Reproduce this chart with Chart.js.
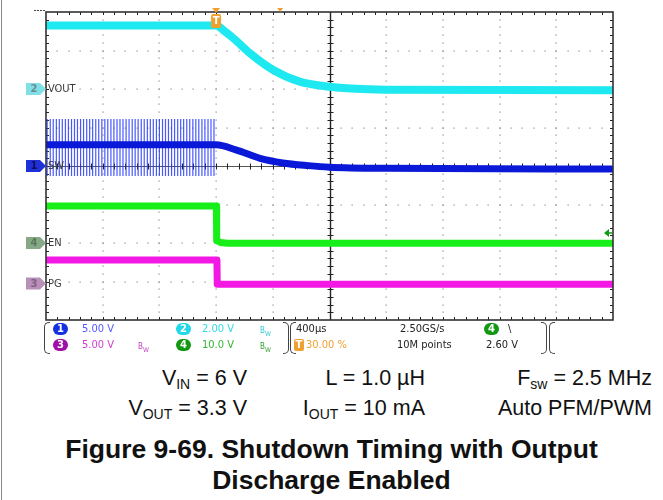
<!DOCTYPE html>
<html>
<head>
<meta charset="utf-8">
<script src="https://cdn.jsdelivr.net/npm/chart.js@4.4.1/dist/chart.umd.min.js"></script>
<style>
  body { margin: 0; background: #fff; width: 663px; height: 500px; position: relative; overflow: hidden; font-family: 'Liberation Sans', Arial, sans-serif; }
  #scope { position: absolute; left: 0; top: 0; width: 663px; height: 330px; }
  .pageline { position: absolute; left: 1px; top: 0; width: 1px; height: 500px; background: #8a8a8a; }
  .ft { position: absolute; font-family: 'DejaVu Sans Condensed', 'Liberation Sans Narrow', sans-serif; font-size: 11px; line-height: 14px; white-space: nowrap; }
  .badge { position: absolute; width: 15px; height: 12px; border-radius: 7px; color: #fff; font: bold 10px 'DejaVu Sans', sans-serif; text-align: center; line-height: 12px; }
  .bw { font-size: 8px; }
  .brl, .brr { position: absolute; top: 322px; height: 30px; width: 5px; border: 1.3px solid #444; }
  .brl { border-right: none; border-radius: 5px 0 0 5px; }
  .brr { border-left: none; border-radius: 0 5px 5px 0; }
  .cond { position: absolute; font-size: 21.5px; line-height: 24px; color: #111; white-space: nowrap; text-align: right; }
  .cond sub { font-size: 14px; vertical-align: -4px; line-height: 0; }
  .cap { position: absolute; left: 0; width: 663px; top: 434px; text-align: center; font-weight: bold; font-size: 26.5px; line-height: 31px; color: #111; }
</style>
</head>
<body>
<div class="pageline"></div>
<canvas id="scope" width="663" height="330"></canvas>

<!-- scope status bar -->
<div class="brl" style="left:44px"></div>
<div class="badge" style="left:53px;top:323px;background:#1530e0">1</div>
<div class="ft" style="left:82px;top:322px;color:#5058ff">5.00 V</div>
<div class="badge" style="left:53px;top:339px;background:#a010a8">3</div>
<div class="ft" style="left:82px;top:338px;color:#d040d0">5.00 V</div>
<div class="ft bw" style="left:138px;top:340px;color:#c040c0">B<sub>W</sub></div>
<div class="badge" style="left:176px;top:323px;background:#20d8e8">2</div>
<div class="ft" style="left:202px;top:322px;color:#30d8e8">2.00 V</div>
<div class="ft bw" style="left:260px;top:324px;color:#30c8d8">B<sub>W</sub></div>
<div class="badge" style="left:176px;top:339px;background:#119911">4</div>
<div class="ft" style="left:202px;top:338px;color:#30b830">10.0 V</div>
<div class="ft bw" style="left:260px;top:340px;color:#30a030">B<sub>W</sub></div>
<div class="brr" style="left:283px"></div>
<div class="brl" style="left:290px"></div>
<div class="ft" style="left:296px;top:322px;color:#222">400µs</div>
<div class="badge" style="left:294px;top:339px;width:10px;border-radius:2px;background:#f0a030">T</div>
<div class="ft" style="left:306px;top:338px;color:#f0a030">30.00 %</div>
<div class="ft" style="left:400px;top:322px;color:#222">2.50GS/s</div>
<div class="ft" style="left:397px;top:338px;color:#222">10M points</div>
<div class="badge" style="left:484px;top:323px;background:#119911">4</div>
<div class="ft" style="left:508px;top:322px;color:#222">\</div>
<div class="ft" style="left:486px;top:338px;color:#222">2.60 V</div>
<div class="brr" style="left:541px"></div>
<div class="brl" style="left:549px"></div>

<div class="cond" style="right:416px;top:366px">V<sub>IN</sub> = 6 V</div>
<div class="cond" style="right:238px;top:366px">L = 1.0 µH</div>
<div class="cond" style="right:11px;top:366px">F<sub>sw</sub> = 2.5 MHz</div>
<div class="cond" style="right:416px;top:396px">V<sub>OUT</sub> = 3.3 V</div>
<div class="cond" style="right:238px;top:396px">I<sub>OUT</sub> = 10 mA</div>
<div class="cond" style="right:11px;top:396px">Auto PFM/PWM</div>
<div class="cap">Figure 9-69. Shutdown Timing with Output<br>Discharge Enabled</div>

<script>
'use strict';

// time base: 400 us/div, trigger at 0 (30 % of screen)
let timeMin = -1200;
let timeMax = 2800;

// channel 2, VOUT (2 V/div)
let voutTimes = [-1200, 0, 60, 120, 240, 400, 590, 800, 950, 1200, 2800];
let voutVolts = [3.3, 3.3, 3.0, 2.65, 1.85, 1.0, 0.38, 0.12, 0.02, -0.04, -0.06];

// channel 1, SW (5 V/div), average level
let swTimes = [-1200, 0, 140, 310, 470, 650, 800, 1200, 2800];
let swVolts = [2.75, 2.75, 2.1, 1.0, 0.4, 0.05, -0.15, -0.3, -0.4];

// SW switching pulses before shutdown
let swPulseTimes = [-1192, -1170, -1149, -1127, -1106, -1085, -1063, -1042, -1020, -999,
  -978, -956, -935, -913, -892, -871, -849, -828, -806, -785, -764, -742, -721, -699,
  -678, -657, -635, -614, -592, -571, -550, -528, -507, -485, -464, -443, -421, -400,
  -378, -357, -336, -314, -293, -271, -250, -229, -207, -186, -164, -143, -122, -100,
  -79, -57, -36, -15];
let swPulseHigh = 6.1;
let swPulseLow = -1.3;

// channel 4, EN (10 V/div)
let enTimes = [-1200, 2, 4, 30, 80, 2800];
let enVolts = [9.6, 9.6, 0.6, 0.15, -0.05, -0.05];

// channel 3, PG (5 V/div)
let pgTimes = [-1200, 6, 8, 2800];
let pgVolts = [3.05, 3.05, -0.1, -0.12];

// volts per division and ground offset (div) per channel
let channels = {
  vout: { label: 'VOUT', num: '2', scale: 2, offset: 2, color: '#1ee8f0', tag: '#7fe0e8', tagText: '#6a8a90' },
  sw: { label: 'SW', num: '1', scale: 5, offset: 0, color: '#0a18d8', tag: '#2030d8', tagText: '#10105a' },
  en: { label: 'EN', num: '4', scale: 10, offset: -2, color: '#18ee18', tag: '#86a886', tagText: '#5a7a5a' },
  pg: { label: 'PG', num: '3', scale: 5, offset: -3.05, color: '#f418e4', tag: '#b890b8', tagText: '#806080' }
};
let triggerLevel = 2.6; // V on channel 4

function toPoints(times, volts, ch) {
  let pts = [];
  for (let i = 0; i < times.length; i++) {
    pts.push({ x: times[i], y: volts[i] / ch.scale + ch.offset });
  }
  return pts;
}

function pulsePoints() {
  let pts = [];
  let ch = channels.sw;
  for (let i = 0; i < swPulseTimes.length; i++) {
    pts.push({ x: swPulseTimes[i], y: swPulseLow / ch.scale + ch.offset });
    pts.push({ x: swPulseTimes[i], y: swPulseHigh / ch.scale + ch.offset });
    pts.push({ x: swPulseTimes[i], y: null });
  }
  return pts;
}

// scope graticule: dotted grid, center cross and border with minor ticks
const graticule = {
  id: 'graticule',
  beforeDatasetsDraw(chart) {
    let ctx = chart.ctx;
    let xs = chart.scales.x;
    let ys = chart.scales.y;
    let a = chart.chartArea;
    let xDiv = (timeMax - timeMin) / 10;
    ctx.save();
    ctx.fillStyle = '#8c8c8c';
    for (let i = 1; i < 10; i++) {
      if (i === 5) continue;
      let px = xs.getPixelForValue(timeMin + i * xDiv);
      for (let j = 1; j < 40; j++) {
        ctx.fillRect(Math.round(px) - 0.5, Math.round(ys.getPixelForValue(-4 + j * 0.2)) - 0.5, 1.2, 1.2);
      }
    }
    for (let k = -3; k <= 3; k++) {
      if (k === 0) continue;
      let py = ys.getPixelForValue(k);
      for (let j = 1; j < 50; j++) {
        ctx.fillRect(Math.round(xs.getPixelForValue(timeMin + j * xDiv / 5)) - 0.5, Math.round(py) - 0.5, 1.2, 1.2);
      }
    }
    // center cross
    ctx.strokeStyle = '#555';
    ctx.lineWidth = 1;
    let cx = Math.round(xs.getPixelForValue(timeMin + 5 * xDiv)) + 0.5;
    let cy = Math.round(ys.getPixelForValue(0)) + 0.5;
    ctx.beginPath();
    ctx.moveTo(a.left, cy); ctx.lineTo(a.right, cy);
    ctx.stroke();
    ctx.strokeStyle = '#222';
    ctx.lineWidth = 1.4;
    ctx.beginPath();
    ctx.moveTo(cx, a.top); ctx.lineTo(cx, a.bottom);
    ctx.stroke();
    ctx.lineWidth = 1;
    ctx.beginPath();
    for (let j = 1; j < 40; j++) {
      let py = Math.round(ys.getPixelForValue(-4 + j * 0.2)) + 0.5;
      ctx.moveTo(cx - 3, py); ctx.lineTo(cx + 3, py);
      ctx.moveTo(a.left, py); ctx.lineTo(a.left + 3, py);
      ctx.moveTo(a.right, py); ctx.lineTo(a.right - 3, py);
    }
    for (let j = 1; j < 50; j++) {
      let px = Math.round(xs.getPixelForValue(timeMin + j * xDiv / 5)) + 0.5;
      ctx.moveTo(px, cy - 3); ctx.lineTo(px, cy + 3);
      ctx.moveTo(px, a.top); ctx.lineTo(px, a.top + 3);
      ctx.moveTo(px, a.bottom); ctx.lineTo(px, a.bottom - 3);
    }
    ctx.stroke();
    ctx.restore();
  },
  afterDatasetsDraw(chart) {
    let ctx = chart.ctx;
    let xs = chart.scales.x;
    let ys = chart.scales.y;
    let a = chart.chartArea;
    ctx.save();
    // border
    ctx.strokeStyle = '#333';
    ctx.lineWidth = 1.6;
    ctx.strokeRect(a.left, a.top, a.right - a.left, a.bottom - a.top);
    // channel ground tags and labels
    for (let key in channels) {
      let ch = channels[key];
      let py = ys.getPixelForValue(ch.offset);
      ctx.fillStyle = ch.tag;
      ctx.beginPath();
      ctx.moveTo(26, py - 6);
      ctx.lineTo(40, py - 6);
      ctx.lineTo(46, py);
      ctx.lineTo(40, py + 6);
      ctx.lineTo(26, py + 6);
      ctx.closePath();
      ctx.fill();
      ctx.fillStyle = ch.tagText;
      ctx.font = 'bold 10px "DejaVu Sans"';
      ctx.textAlign = 'center';
      ctx.textBaseline = 'middle';
      ctx.fillText(ch.num, 34, py + 0.5);
      ctx.fillStyle = '#3a3a3a';
      ctx.font = '11px "DejaVu Sans Condensed", "DejaVu Sans"';
      ctx.textAlign = 'left';
      ctx.fillText(ch.label, a.left + 2, py + 0.5);
    }
    // trigger position marker
    let tx = xs.getPixelForValue(0);
    ctx.fillStyle = '#f0a030';
    ctx.beginPath();
    ctx.moveTo(tx - 4, a.top - 4); ctx.lineTo(tx + 4, a.top - 4); ctx.lineTo(tx, a.top + 1);
    ctx.fill();
    ctx.beginPath();
    ctx.roundRect(tx - 5, a.top + 2, 10, 14, 2);
    ctx.fill();
    ctx.fillStyle = '#fff';
    ctx.font = 'bold 10px "DejaVu Sans"';
    ctx.textAlign = 'center';
    ctx.fillText('T', tx, a.top + 9.5);
    // expansion point marker
    let ex = xs.getPixelForValue(0) + 64;
    ctx.fillStyle = '#f0a030';
    ctx.beginPath();
    ctx.moveTo(ex - 3, a.top - 4); ctx.lineTo(ex + 3, a.top - 4); ctx.lineTo(ex, a.top);
    ctx.fill();
    // trigger level arrow (channel 4)
    let ch4 = channels.en;
    let ly = ys.getPixelForValue(triggerLevel / ch4.scale + ch4.offset);
    ctx.fillStyle = '#119911';
    ctx.strokeStyle = '#119911';
    ctx.lineWidth = 1.5;
    ctx.beginPath();
    ctx.moveTo(a.right - 9, ly); ctx.lineTo(a.right - 4, ly - 4); ctx.lineTo(a.right - 4, ly + 4);
    ctx.fill();
    ctx.beginPath();
    ctx.moveTo(a.right - 5, ly); ctx.lineTo(a.right - 1, ly);
    ctx.stroke();
    // small marks above top-left corner
    ctx.strokeStyle = '#444';
    ctx.lineWidth = 1;
    ctx.beginPath();
    for (let i = 0; i < 4; i++) {
      ctx.moveTo(34 + i * 3, 10.5); ctx.lineTo(36 + i * 3, 10.5);
    }
    ctx.stroke();
    ctx.restore();
  }
};

let canvasElement = document.getElementById('scope');

function renderChart() {
  let chartObj = {
    type: 'line',
    data: {
      datasets: [
        {
          label: 'PG',
          data: toPoints(pgTimes, pgVolts, channels.pg),
          borderColor: channels.pg.color,
          borderWidth: 7,
          order: 4
        },
        {
          label: 'EN',
          data: toPoints(enTimes, enVolts, channels.en),
          borderColor: channels.en.color,
          borderWidth: 7,
          order: 3
        },
        {
          label: 'SW pulses',
          data: pulsePoints(),
          borderColor: 'rgba(40, 60, 255, 0.85)',
          borderWidth: 1.2,
          spanGaps: false,
          order: 6
        },
        {
          label: 'SW',
          data: toPoints(swTimes, swVolts, channels.sw),
          borderColor: channels.sw.color,
          borderWidth: 7,
          cubicInterpolationMode: 'monotone',
          order: 2
        },
        {
          label: 'VOUT',
          data: toPoints(voutTimes, voutVolts, channels.vout),
          borderColor: channels.vout.color,
          borderWidth: 8,
          cubicInterpolationMode: 'monotone',
          order: 1
        }
      ]
    },
    options: {
      responsive: false,
      animation: false,
      parsing: false,
      layout: { padding: { left: 46, top: 12, right: 50, bottom: 10 } },
      elements: { point: { radius: 0 }, line: { borderCapStyle: 'butt', borderJoinStyle: 'round' } },
      scales: {
        x: { type: 'linear', min: timeMin, max: timeMax, display: false },
        y: { type: 'linear', min: -4, max: 4, display: false }
      },
      plugins: { legend: { display: false }, tooltip: { enabled: false } }
    },
    plugins: [graticule]
  };
  new Chart(canvasElement, chartObj);//eslint-disable-line
}

renderChart();
</script>
</body>
</html>
